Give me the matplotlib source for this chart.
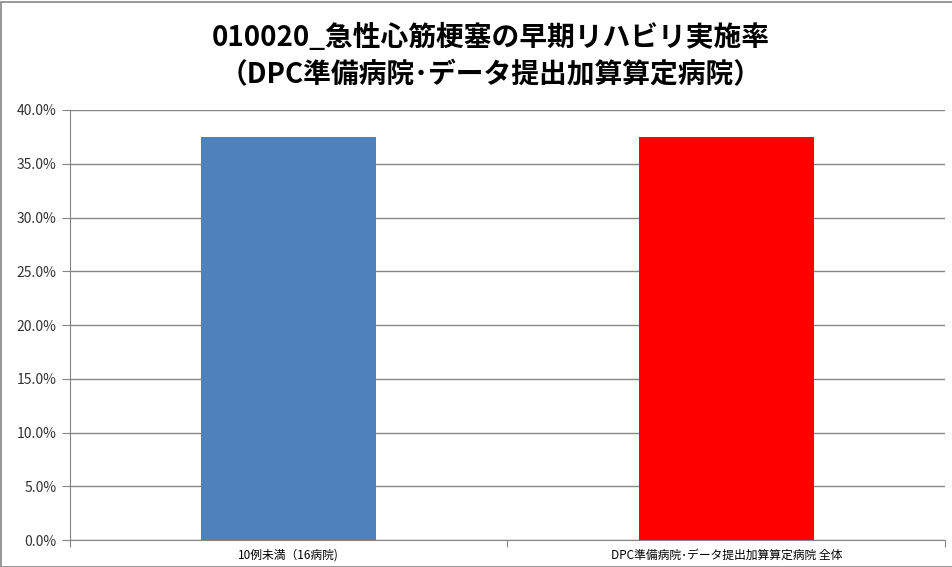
import matplotlib.pyplot as plt
from matplotlib.patches import Rectangle
from matplotlib.ticker import FuncFormatter

plt.rcParams["font.family"] = ["Noto Sans CJK JP", "DejaVu Sans"]

categories = ["10例未満（16病院)", "DPC準備病院･データ提出加算算定病院 全体"]
values = [0.375, 0.375]
colors = ["#4f81bd", "#ff0000"]
title = "010020_急性心筋梗塞の早期リハビリ実施率\n（DPC準備病院･データ提出加算算定病院）"

fig = plt.figure(figsize=(9.52, 5.67), dpi=100)
ax = fig.add_axes([0.0735, 0.0476, 0.9191, 0.7584])

x = list(range(len(categories)))
ax.bar(x, values, width=0.4, color=colors, zorder=3)

ax.set_xlim(-0.5, len(categories) - 0.5)
ax.set_ylim(0, 0.4)
ax.set_yticks([i * 0.05 for i in range(9)])
ax.yaxis.set_major_formatter(FuncFormatter(lambda v, _: f"{v*100:.1f}%"))
ax.grid(axis="y", color="#868686", linewidth=1, zorder=0)

# category boundaries as tick marks, labels at centres
ax.set_xticks([-0.5, 0.5, 1.5])
ax.set_xticklabels([])
ax.set_xticks(x, minor=True)
ax.set_xticklabels(categories, minor=True, fontsize=8.5)
ax.tick_params(axis="x", which="minor", length=0, pad=6)
ax.tick_params(axis="x", which="major", length=5, color="#868686")
ax.tick_params(axis="y", length=6, color="#868686", labelsize=10, colors="#333333")
ax.tick_params(axis="x", which="minor", colors="#000000")

for side in ["top", "right"]:
    ax.spines[side].set_visible(False)
for side in ["left", "bottom"]:
    ax.spines[side].set_color("#868686")

fig.text(0.515, 0.9, title, ha="center", va="center", fontsize=20,
         fontweight="bold", linespacing=1.4)

fig.patches.append(Rectangle((0.001, 0.0), 2, 0.997, transform=fig.transFigure,
                             fill=False, edgecolor="#868686", linewidth=1.2))

fig.savefig("out.png", dpi=100)
